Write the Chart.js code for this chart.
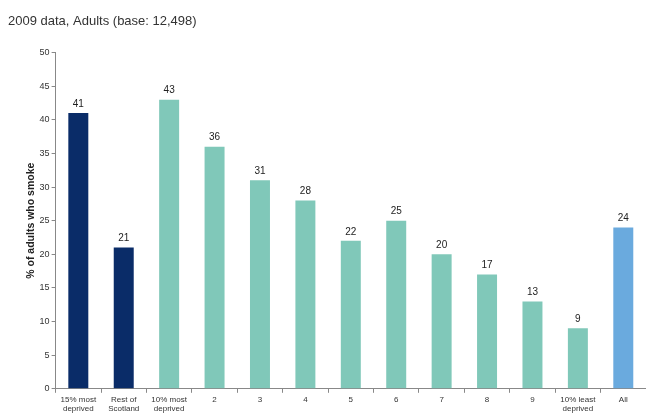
<!DOCTYPE html>
<html>
<head>
<meta charset="utf-8">
<script src="https://cdn.jsdelivr.net/npm/chart.js@4"></script>
<style>
  body { margin: 0; background: #fff; }
  #wrap { width: 646px; height: 416px; position: relative; }
</style>
</head>
<body>
<div id="wrap"><canvas id="grafico"></canvas></div>
<script>
// Datos del gráfico
const categorias = [
  ['15% most', 'deprived'], ['Rest of', 'Scotland'], ['10% most', 'deprived'],
  '2', '3', '4', '5', '6', '7', '8', '9', ['10% least', 'deprived'], 'All'
];
const valores = [41, 21, 43, 36, 31, 28, 22, 25, 20, 17, 13, 9, 24];
const colores = [
  '#0a2c68', '#0a2c68',
  '#80c8b9', '#80c8b9', '#80c8b9', '#80c8b9', '#80c8b9', '#80c8b9',
  '#80c8b9', '#80c8b9', '#80c8b9', '#80c8b9',
  '#6aaade'
];
const ticksY = [0, 5, 10, 15, 20, 25, 30, 35, 40, 45, 50];

// Plugin para escribir el valor encima de cada barra
const etiquetasValor = {
  id: 'etiquetasValor',
  afterDatasetsDraw(chart) {
    const ctx = chart.ctx;
    ctx.save();
    ctx.font = '10px "Liberation Sans", Arial, sans-serif';
    ctx.fillStyle = '#222';
    ctx.textAlign = 'center';
    ctx.textBaseline = 'bottom';
    chart.getDatasetMeta(0).data.forEach((bar, i) => {
      ctx.fillText(valores[i], bar.x, bar.y - 4);
    });
    ctx.restore();
  }
};

const grafico = new Chart(document.getElementById('grafico'), {
  type: 'bar',
  data: {
    labels: categorias,
    datasets: [{
      data: valores,
      backgroundColor: colores,
      barPercentage: 0.88,
      categoryPercentage: 0.5
    }]
  },
  options: {
    responsive: true,
    maintainAspectRatio: false,
    animation: false,
    layout: { padding: { left: 8, right: 0, top: 0, bottom: 0 } },
    plugins: {
      legend: { display: false },
      tooltip: { enabled: false },
      title: {
        display: true,
        text: '2009 data, Adults (base: 12,498)',
        align: 'start',
        color: '#333',
        font: { family: '"Liberation Sans", Arial, sans-serif', size: 13, weight: 'normal' },
        padding: { top: 14, bottom: 23 }
      }
    },
    scales: {
      x: {
        grid: { display: true, drawOnChartArea: false, offset: true, tickLength: 4, color: '#888' },
        border: { color: '#888' },
        ticks: {
          color: '#333',
          maxRotation: 0,
          autoSkip: false,
          padding: 2,
          font: { family: '"Liberation Sans", Arial, sans-serif', size: 8 }
        }
      },
      y: {
        min: 0,
        max: 50,
        afterBuildTicks(scale) { scale.ticks = ticksY.map(v => ({ value: v })); },
        grid: { display: true, drawOnChartArea: false, tickLength: 4, color: '#888' },
        border: { color: '#888' },
        title: {
          display: true,
          text: '% of adults who smoke',
          color: '#222',
          padding: { top: 17, bottom: 0 },
          font: { family: '"Liberation Sans", Arial, sans-serif', size: 10.5, weight: 'bold' }
        },
        ticks: {
          color: '#333',
          padding: 2,
          font: { family: '"Liberation Sans", Arial, sans-serif', size: 9 }
        }
      }
    }
  },
  plugins: [etiquetasValor]
});
</script>
</body>
</html>
